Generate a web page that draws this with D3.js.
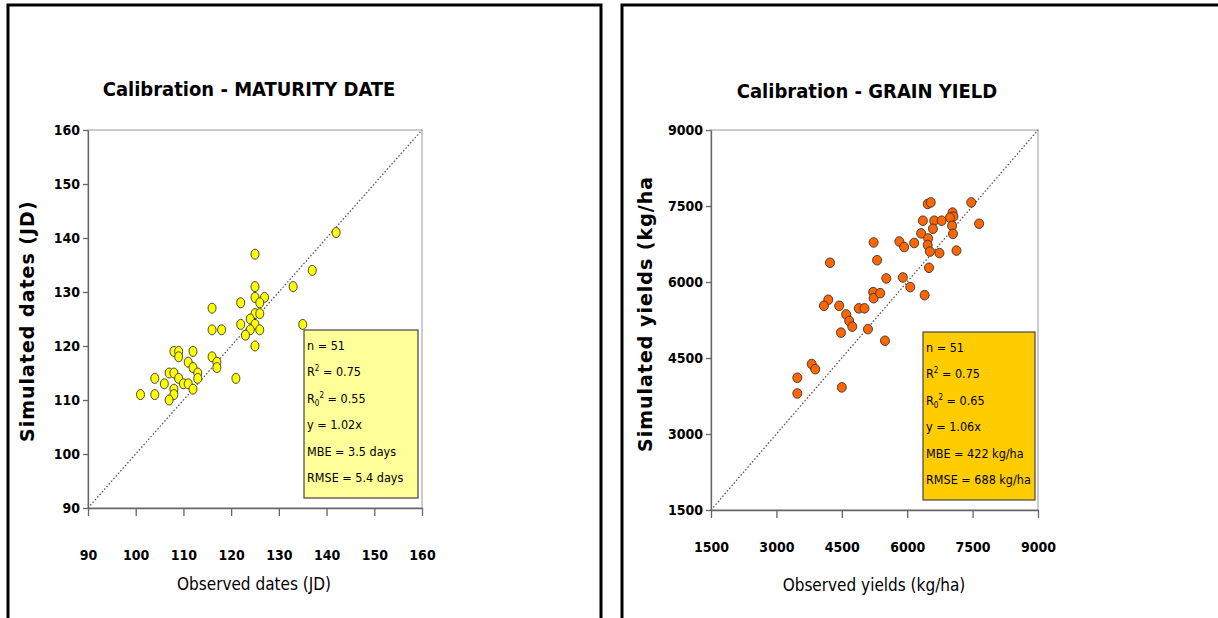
<!DOCTYPE html>
<html>
<head>
<meta charset="utf-8">
<script src="https://cdn.jsdelivr.net/npm/d3@7"></script>
<style>
  body { margin: 0; background: #fff; }
  text { font-family: "Comic Sans MS", "DejaVu Sans Condensed", sans-serif; }
</style>
</head>
<body>
<svg width="1218" height="618"></svg>
<script>
// maturity date, observed vs simulated (JD)
var obsDates = [125,133,125,125,127,126,122,116,125,126,124,125,135,122,116,118,124,126,123,125,
  108,109,112,109,116,111,117,112,117,107,108,113,109,104,113,121,106,110,111,108,112,101,104,108,107,142,137];
var simDates = [137,131,131,129,129,128,128,127,126,126,125,124,124,124,123,123,123,123,122,120,
  119,119,119,118,118,117,117,116,116,115,115,115,114,114,114,114,113,113,113,112,112,111,111,111,110,141,134];

// grain yield, observed vs simulated (kg/ha)
var obsYield = [6470,6540,7470,7040,7060,6980,6360,6620,6790,7650,7030,6590,6320,7050,6480,5230,5820,5930,6160,6470,
  6520,6740,7130,4230,5310,6500,5520,5900,6070,6400,5220,5230,5380,4190,4090,4440,4890,5020,4600,4670,
  4740,5100,4480,5490,3810,3890,3480,4500,3480];
var simYield = [7540,7570,7570,7370,7290,7270,7210,7210,7210,7150,7110,7050,6960,6950,6860,6780,6800,6690,6770,6730,
  6600,6570,6620,6380,6430,6280,6070,6090,5900,5740,5800,5680,5780,5650,5530,5530,5480,5480,5360,5230,
  5120,5070,5000,4840,4380,4280,4110,3920,3800];

var dateTicks = [90,100,110,120,130,140,150,160];
var yieldTicks = [1500,3000,4500,6000,7500,9000];

var statsDates = ["n = 51","R2 = 0.75","R02 = 0.55","y = 1.02x","MBE = 3.5 days","RMSE = 5.4 days"];
var statsYield = ["n = 51","R2 = 0.75","R02 = 0.65","y = 1.06x","MBE = 422 kg/ha","RMSE = 688 kg/ha"];

var svg = d3.select("svg");

// panel frames
svg.append("rect").attr("x",8).attr("y",5).attr("width",593).attr("height",640)
  .attr("fill","none").attr("stroke","#000").attr("stroke-width",3);
svg.append("rect").attr("x",622).attr("y",5).attr("width",620).attr("height",640)
  .attr("fill","none").attr("stroke","#000").attr("stroke-width",3);

function drawPanel(cfg)
{
  var x = d3.scaleLinear().domain(cfg.domain).range([cfg.left, cfg.right]);
  var y = d3.scaleLinear().domain(cfg.domain).range([cfg.bottom, cfg.top]);
  var g = svg.append("g");

  // plot area border
  g.append("rect").attr("x",cfg.left).attr("y",cfg.top)
    .attr("width",cfg.right-cfg.left).attr("height",cfg.bottom-cfg.top)
    .attr("fill","none").attr("stroke","#aaa").attr("stroke-width",1.2);

  // 1:1 line
  g.append("line")
    .attr("x1",x(cfg.domain[0])).attr("y1",y(cfg.domain[0]))
    .attr("x2",x(cfg.domain[1])).attr("y2",y(cfg.domain[1]))
    .attr("stroke","#555").attr("stroke-width",1.3).attr("stroke-dasharray","1.5,2");

  var fmt = d3.format("d");
  var xa = g.append("g").attr("transform","translate(0,"+cfg.bottom+")")
    .call(d3.axisBottom(x).tickValues(cfg.ticks).tickFormat(fmt).tickSizeInner(8).tickSizeOuter(0).tickPadding(cfg.xPad));
  var ya = g.append("g").attr("transform","translate("+cfg.left+",0)")
    .call(d3.axisLeft(y).tickValues(cfg.ticks).tickFormat(fmt).tickSizeInner(5).tickSizeOuter(0).tickPadding(3));
  [xa, ya].forEach(function(a) {
    a.select(".domain").attr("stroke","#666").attr("stroke-width",1.3);
    a.selectAll(".tick line").attr("stroke","#666").attr("stroke-width",1.3);
    a.selectAll(".tick text").attr("fill","#000").style("font-size","14px").style("font-weight","bold")
      .style("font-family","'Comic Sans MS', 'DejaVu Sans Condensed', sans-serif");
  });

  // points
  var pts = d3.zip(cfg.obs, cfg.sim);
  g.selectAll("ellipse.pt").data(pts).enter().append("ellipse")
    .attr("class","pt")
    .attr("cx", d=>x(d[0]))
    .attr("cy", d=>y(d[1]))
    .attr("rx", cfg.rx).attr("ry", cfg.ry)
    .attr("fill", cfg.color).attr("stroke","#333").attr("stroke-width",0.9);

  // stats box
  g.append("rect").attr("x",cfg.box[0]).attr("y",cfg.box[1]).attr("width",cfg.box[2]).attr("height",cfg.box[3])
    .attr("fill",cfg.boxColor).attr("stroke","#444").attr("stroke-width",1.2);
  var st = g.selectAll("text.stat").data(cfg.stats).enter().append("text")
    .attr("class","stat")
    .attr("x", cfg.box[0]+3)
    .attr("y", (d,i)=>cfg.box[1]+20+i*26.4)
    .style("font-size","12.5px").attr("fill","#000");
  st.each(function(d) {
    var t = d3.select(this);
    if (d.indexOf("R02") === 0) {
      t.append("tspan").text("R");
      t.append("tspan").text("0").attr("dy",3).style("font-size","8px");
      t.append("tspan").text("2").attr("dy",-8).style("font-size","8px");
      t.append("tspan").text(" " + d.slice(3)).attr("dy",5);
    } else if (d.indexOf("R2") === 0) {
      t.append("tspan").text("R");
      t.append("tspan").text("2").attr("dy",-5).style("font-size","8px");
      t.append("tspan").text(" " + d.slice(2)).attr("dy",5);
    } else {
      t.text(d);
    }
  });

  // title and axis labels
  g.append("text").attr("x",cfg.titleX).attr("y",cfg.titleY).attr("text-anchor","middle")
    .style("font-size","20px").style("font-weight","bold").text(cfg.title);
  g.append("text").attr("x",cfg.xLabelX).attr("y",cfg.xLabelY).attr("text-anchor","middle")
    .style("font-size","17px").text(cfg.xLabel);

  var clipId = "clip" + cfg.left;
  svg.append("clipPath").attr("id",clipId).append("rect")
    .attr("x",cfg.yLabelX-30).attr("y",cfg.yClipTop).attr("width",50).attr("height",400);
  g.append("g").attr("clip-path","url(#"+clipId+")")
    .append("text")
    .attr("transform","translate("+cfg.yLabelX+","+cfg.yLabelY+") rotate(-90)")
    .attr("text-anchor","start")
    .style("font-family","'DejaVu Sans', Verdana, sans-serif")
    .style("letter-spacing","1px")
    .style("font-size","19px").style("font-weight","bold").text(cfg.yLabel);
}

drawPanel({
  domain:[90,160], ticks:dateTicks, left:88, right:422, top:130, bottom:508, xPad:34,
  obs:obsDates, sim:simDates, color:"#ffff00", rx:4, ry:5,
  box:[304,330,114,168], boxColor:"#ffff99", stats:statsDates,
  title:"Calibration - MATURITY DATE", titleX:249, titleY:96,
  xLabel:"Observed dates (JD)", xLabelX:254, xLabelY:590,
  yLabel:"Simulated dates (JD)", yLabelX:34, yLabelY:442, yClipTop:100
});

drawPanel({
  domain:[1500,9000], ticks:yieldTicks, left:711, right:1038, top:130, bottom:510, xPad:24,
  obs:obsYield, sim:simYield, color:"#ff6600", rx:4.5, ry:4.8,
  box:[923,332,112,168], boxColor:"#ffcc00", stats:statsYield,
  title:"Calibration - GRAIN YIELD", titleX:867, titleY:98,
  xLabel:"Observed yields (kg/ha)", xLabelX:874, xLabelY:591,
  yLabel:"Simulated yields (kg/ha)", yLabelX:652, yLabelY:452, yClipTop:178
});
</script>
</body>
</html>
